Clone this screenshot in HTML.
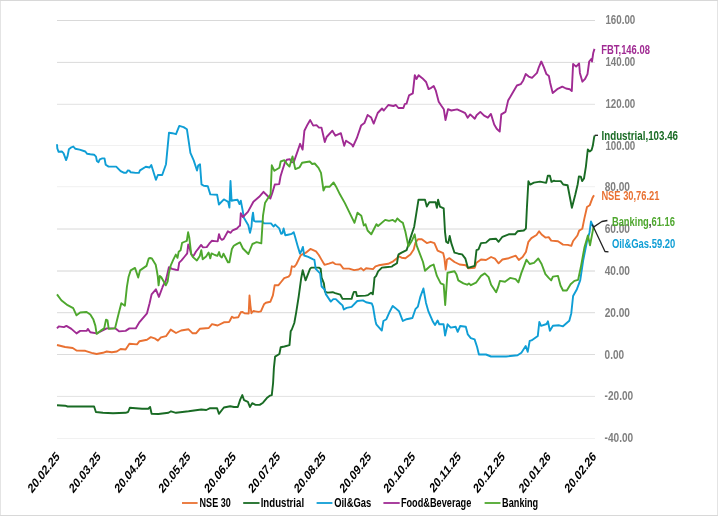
<!DOCTYPE html>
<html><head><meta charset="utf-8"><title>Chart</title>
<style>html,body{margin:0;padding:0;background:#fff;}svg{display:block;will-change:transform;}text{font-family:"Liberation Sans",sans-serif;}</style>
</head><body>
<svg width="718" height="516" viewBox="0 0 718 516">
<rect x="0" y="0" width="718" height="516" fill="#ffffff"/>
<rect x="0" y="0" width="1" height="516" fill="#E4E4E4"/>
<rect x="717" y="0" width="1" height="516" fill="#E4E4E4"/>
<rect x="0" y="0" width="718" height="1" fill="#D8D8D8"/>
<rect x="0" y="515" width="718" height="1" fill="#D8D8D8"/>
<g stroke-width="1" fill="none">
<line x1="57" y1="20.5" x2="595" y2="20.5" stroke="#D9D9D9"/>
<line x1="57" y1="62.4" x2="595" y2="62.4" stroke="#DADADA"/>
<line x1="57" y1="104.3" x2="595" y2="104.3" stroke="#E2E2E2"/>
<line x1="57" y1="145.5" x2="595" y2="145.5" stroke="#F1F1F1"/>
<line x1="57" y1="186.7" x2="595" y2="186.7" stroke="#F0F0F0"/>
<line x1="57" y1="229.0" x2="595" y2="229.0" stroke="#D8D8D8"/>
<line x1="57" y1="271.0" x2="595" y2="271.0" stroke="#D4D4D4"/>
<line x1="57" y1="312.7" x2="595" y2="312.7" stroke="#DADADA"/>
<line x1="57" y1="354.5" x2="595" y2="354.5" stroke="#DCDCDC"/>
<line x1="57" y1="396.4" x2="595" y2="396.4" stroke="#E2E2E2"/>
<line x1="57" y1="438.5" x2="595" y2="438.5" stroke="#F1F1F1"/>
</g>
<polyline fill="none" stroke="#E97132" stroke-width="1.9" stroke-linejoin="round" stroke-linecap="butt" points="57,345 65.1,347 72.7,348 76.5,350.5 85.3,350.8 91.6,352.8 96.6,354 102.9,352.8 106.7,351.5 111.8,352.3 116.8,351.5 120.6,349 125.6,349.5 129.4,343.7 137,344.4 139.5,341.2 147,339.7 150.8,337.1 154.6,338.3 157.9,340.6 160.9,337.4 166,336.2 170.7,329.6 176,333 181.1,330.5 188.6,329.3 192.4,333.2 196.2,333.2 200,328.7 208.8,328 212,324.1 217.6,325.5 223.9,322.3 229,322 230,320.5 231.9,316.7 233.8,317.9 238.2,317.3 240.7,312.3 242.6,312 244.5,313.2 248.7,313.5 249.5,295.5 250.4,305.3 251.4,313.2 253.3,311 258.4,311.9 260.9,311.4 264,304.3 265.9,302.8 270.3,301.8 272.9,295.3 274.7,285.2 278.5,285.2 281.1,282 284.2,278.2 288.6,276.6 290.3,274.5 291.8,266.3 294.3,266.9 296.2,264.5 300.8,255.2 305.9,252.7 310.4,248.9 316,251.4 318.8,255 321.3,259.4 324.5,264.8 328.9,263.6 332.7,262.3 335.2,264.1 340.3,264.5 343.4,268.6 349.1,268.6 354.1,270.1 358.5,269.5 361.1,268.2 363.6,270.4 366.1,268.2 373,269.1 375.5,266.3 378.7,265.3 388.2,263.8 393.2,261.3 397,258.2 398.3,256.2 401.6,257.7 405.4,258.2 410.4,254.4 413.7,249.4 415.5,242.6 418,239.3 421.8,239.3 426.8,243.1 430.6,241.8 434.4,243.1 437.6,250.7 443.2,253.2 444.4,258.2 445.7,269.6 447,259.5 449.5,258.2 454.5,262 459.6,264.5 465.9,265.3 468.4,268.3 474.7,267.8 476.5,262.8 481,259.5 486,260 491.1,257 494.9,258.7 498.6,263.3 502.4,259.5 508.7,258.2 515.8,255.7 518.8,260 522.6,257 525.9,251.9 528.4,241.8 531.4,238.1 536.5,235 539.1,231.3 541.6,234.5 545.4,237.6 548.7,237.1 551.2,240.6 558,241.3 563,244.6 567.8,244.9 571.3,245.9 573.1,241 577.4,235.5 579.2,230.6 582.3,228.8 584.4,218.4 587,207 589.7,205.3 592.3,198.3 594,195.3"/>
<polyline fill="none" stroke="#196B24" stroke-width="1.9" stroke-linejoin="round" stroke-linecap="butt" points="57,405.2 65.1,405.7 67.6,406.5 94.1,406.5 95.9,412 102.9,412.8 113,413.3 125.6,412.8 128.1,412 129.9,407.7 135.7,408.2 142,408.7 148.3,408.7 150.1,407 151.6,413.8 158.4,414 168.5,412.8 171,411.3 176,412.8 188.6,411.3 201.3,409.5 206.3,410 210.1,408.2 217.1,408.2 218.9,413.8 223.9,407.5 230.2,406.2 234,407 237.8,407 240.3,399.4 242.3,395.1 244.1,400.2 247.9,401.9 249.9,407 252.2,403.2 255.5,404.9 259.7,404.9 263,402.7 266.8,398.1 270.1,395.6 271.8,395.1 273.1,383 273.9,367.9 275.1,356.6 279.4,354 280.7,347.2 284.4,346.5 289.5,345.2 290.7,331.3 291.8,329.5 294.3,323 296.2,312.3 298.7,296.5 301.2,278.2 302.7,270.3 305.6,280.4 310,268.9 311.3,267.6 318.8,267.6 320.7,268.9 321.6,277.7 323.9,283.4 324.9,291.6 327.6,292.6 332.7,292.2 335.2,293.1 340.3,294.7 342.5,298.9 351.6,298.9 352.6,295.3 353.9,291.9 356,291.9 356.9,296 365.5,295.6 368,295.1 371.1,292.8 372.8,294.3 373.7,286.5 374.5,277.7 376.2,275.8 378.1,271.4 381.9,267.6 385.6,267.2 391.9,266.6 393.8,265.1 397,263.2 398.2,255.5 398.6,254.4 401.6,252.7 406.6,250.2 410.4,238.1 414.2,226.7 416,215.4 418.5,199.7 425,199.7 426.8,206.6 429.3,202.3 435.6,202.3 436.9,207.8 438.1,199.7 439.9,206.6 443.7,208.3 445,231.8 446.2,241.8 448.2,243.1 449.7,236 451.3,243.1 454.5,252.7 458.3,253.7 462.1,254.4 465.4,258.7 467.9,267.8 474.7,265.8 476.5,250.2 478.5,249.4 481,243.1 486,242.6 489.8,239.3 496.1,238.8 498.6,241.8 502.4,236.8 508.7,234.3 515,234.3 517.5,231.3 523.8,230.5 525.9,228.5 526.9,207.8 528.4,181.3 530.2,184.6 533.9,182.6 540,181.6 546.2,182.9 547.8,175.7 549.9,175.7 551.5,181.9 554,180.7 555,181.1 560.7,181.1 563.2,184.5 567.6,185.2 571.9,207.7 575.2,195 577.7,184.2 578.9,176.4 580.8,176.6 582.1,181.1 584,178.5 585.9,166.6 587.8,149.5 589.7,151.4 591.6,149.9 592.8,145.8 594.1,137.6 594.7,135.5"/>
<polyline fill="none" stroke="#0F9ED5" stroke-width="1.9" stroke-linejoin="round" stroke-linecap="butt" points="57,144.2 57.3,148.4 58.6,151.8 62,151.5 63.6,153.4 66.1,160.1 67.6,155.9 68.9,149.2 70.8,147.7 73.3,146.5 75.2,148.7 79.6,149.6 85.3,151.5 87.2,153.8 90.3,154.3 94.1,154.7 96,156.6 96.9,161 98.5,162.2 99.8,159.3 102.3,158.4 104.5,158.4 105.7,164.7 108.6,166.6 116.2,166.6 120.6,171.1 123.7,172.7 126.3,172.7 127.9,170.4 129.4,170.7 130.7,172.3 135.7,172.9 138.9,172.9 140,170.4 145.8,166.7 149.6,167.5 151.3,165 155.9,179.8 157.9,175 162.2,175 166,164.2 169,132.7 172.3,133.2 176,134.2 179.3,125.9 183.6,127.1 186.9,129.2 190.4,152.9 193.7,160.4 197,170.5 198.2,165.5 200,164.2 201.5,184.4 203.8,185.8 207.8,186.2 210.3,194.4 217.1,194.7 218.9,204.5 223.9,199.4 225,200 228.2,201.9 229.4,207.6 230.5,181 231.6,200.7 233.8,200.3 237.6,199.8 239.5,204.1 240.8,200.7 242.6,210.1 243.9,217.7 248.3,225.3 250,232.8 251.5,226.5 252.1,218.3 253,212.6 254,220.8 255.3,221.5 262.2,221.5 264.1,223.4 271,223.4 273.5,226.5 275.2,224.6 279.2,228.4 281.1,233.8 282.4,233.4 283.6,228.4 285.3,235.3 288,234.7 291.8,233.8 293.7,232.2 295,236.6 297.5,245.4 300,253.6 301.6,250.5 302.9,246.9 304.2,255.5 308.2,256.8 313.2,259.3 314.4,259.8 315.7,268.9 320.1,273.3 321.6,286.5 324.9,289.7 325.8,294.1 330.8,301.6 333.3,299.1 335.8,299.1 340.3,303.5 342.5,305.4 343.8,309.5 346.6,307.9 351.6,306.9 357.3,301 362.9,300.4 366.1,302.3 371.8,303.5 373,306.7 374.9,318 375.7,322 376.3,324.3 381.8,330.6 383.4,321 386.4,319.2 389.7,311.7 392.7,305.9 395.2,307.9 399,311.2 402.8,321 406.6,319.2 412.4,318 415.4,309.2 417.9,306.6 420.4,296.6 423.4,288.5 426,302.9 428.5,311.7 433,321.8 435,325 437.6,320.5 439.3,324.3 443.6,324.3 445.1,335.6 447.6,324.3 450.7,327.6 455.7,326.8 457.7,331.8 460.2,326 465.8,326.8 467.8,334.4 470.8,338.1 474.6,339.4 477.1,347 478.9,354.5 486,354.5 491,356.5 506.1,356.5 517.6,355.3 521.4,352.8 525.7,346 527.7,351.8 529.7,340.9 531.5,340.4 537.8,335.9 539.3,322 541.1,325.8 546.6,324 547.9,321.3 549.9,330.8 552.9,325.8 559.2,325.3 563,326.3 569.3,320.8 571.3,313.2 573.1,296 576.9,289.2 580.2,280.4 583.2,260.3 587,241.3 589.5,232.5 591,221.5 593.5,227.4"/>
<polyline fill="none" stroke="#A02B93" stroke-width="1.9" stroke-linejoin="round" stroke-linecap="butt" points="57,328.4 58.8,326.4 63.9,327.1 66.4,325.9 71.4,328.9 76.5,333.4 80.2,330.9 86.6,330.9 87.8,328.9 90.3,332.2 96.6,333.4 101.7,330.9 106.7,328.4 115.5,328.4 119.3,331.4 125.6,330.9 129.4,328.4 135.7,328.4 139.5,322.1 147,313.3 149.6,303.2 151.6,294.4 155.9,289.3 158.9,296.9 162.2,288 162.6,286.8 165.8,280.5 167.6,272.9 168.9,267.2 170.2,267.9 172.1,268.9 175.8,269.7 178,270.1 179.2,262.6 181.5,260.3 184.7,256.5 187.2,253.4 188.2,244.5 189.6,248 191,253.5 192.2,255.3 193.5,255.9 196,251.5 198.5,248.3 201.1,244.9 203,247.4 206.7,247.1 209.2,243.7 211.8,240.8 214.9,241.1 217.7,241.4 219,234.1 220.3,238.2 221.9,239.9 223.7,238.9 227.9,231.3 230.7,232.8 232.6,230.3 237,228.5 238.9,226.3 240,225.6 240.8,213.2 242.9,217 247.9,211.9 253.4,201.8 259.2,196.8 263.5,191.8 267.6,196 270.4,198.5 272.3,192.9 274.8,184.5 279.2,184.1 280.5,176.5 282.4,170.2 284.9,162.6 286.8,159.8 289.9,159.1 291.2,162 293.7,162.4 295.6,156.9 297.8,150.6 300.1,143.8 302.6,149.6 304.4,130.7 307.6,124.4 310.2,120.1 313.2,125.6 316.5,125.1 319,127.6 321.5,127.6 324.8,142 326.6,137 332.4,130.7 335.4,135.7 340.9,133.2 344.2,145.8 346,140.7 351.8,144.5 353,146.5 356.8,138.2 361.1,125.6 364.4,123.1 367.6,115 371.2,117.6 373.7,123.6 377.7,113 382,108.5 383.8,110.5 388.3,105 393.4,106 395.9,105 398.4,108 403.4,108 404.7,104.2 406.5,103.7 409,95.4 412.8,93.4 414.8,75.2 416.5,79 418.6,75.2 422.3,78.2 426.1,82 428.6,89.1 431.2,87.8 433.7,86 435.7,90.3 438.7,101.7 441.2,105.5 443.8,109.2 445.5,120.1 448,109.2 451.3,110.5 457.1,109.4 462.7,111.9 465.2,113.2 467.7,117.7 470.2,114.4 474.8,118.7 476.6,115.2 480.3,111.9 484.1,115.7 487.9,117.7 490.9,113.9 494.2,124.5 496.7,128.8 499.7,131.6 501.3,114.4 505.5,111.9 508.1,100.6 511.8,94.3 516.9,85.5 520.7,84.2 523.2,80.4 525.7,74.1 528.7,76.6 532,77.9 537,72.9 538.8,67.3 541.3,61.5 543.9,67.3 546.4,74.1 548.9,76.1 550.2,82.9 552.7,93 557.2,89.2 562.3,86.7 566,88.5 569.8,89.2 571.8,91 573.1,64 576.1,66.6 579.1,63.5 579.9,72.9 582.4,81.7 584.9,79.2 587.5,74.1 589.2,61.5 591.2,59 592,61.5 593.3,52.7 594.5,48.9"/>
<polyline fill="none" stroke="#4EA72E" stroke-width="1.9" stroke-linejoin="round" stroke-linecap="butt" points="57,294.4 61.3,300.2 67.6,305.2 73.2,308.2 76.5,315.3 80.2,312.5 86.6,312 90.3,314.5 93.4,319.6 95.4,325.9 96.6,333.9 100.4,330.9 104.2,328.4 106,319.6 107.5,320.3 108.7,328.9 115,328.4 118.1,315.8 121.3,303.2 124.9,305.7 126.9,286.8 128.6,276.7 130.7,270.4 135,267.9 138.2,277.5 140,270.4 146.5,265.9 148.8,258.3 150,258 151.9,258.4 155.7,264.7 156.9,271 157.8,276.7 158.6,285.3 159.8,276 161.3,277.3 165.8,285.3 167.6,281.7 168.9,272.9 170.8,265.3 173.3,259.7 175.8,254.6 177.5,257.8 178.7,251.7 180.6,250.2 182.1,242.9 184,242 186.8,240.8 188.1,232.3 189.3,237.6 190.3,246.4 191.2,254.2 192.9,257.1 196.9,260.5 199.8,255.9 201.3,250.2 202.7,259.3 206.1,256.5 208.6,252.5 210.3,258.4 211.5,253.4 214.9,255 217.4,255.9 219.1,252.1 220.3,256.3 221.9,257.5 223.5,253.7 225.6,257.8 227.9,262.2 229.4,262.2 230.7,255.3 231.9,249 233.8,245.8 237,243.9 240,242.4 242.9,248.5 248.4,254 252.4,244 256.7,242.2 261.3,243.4 263,215.7 265,203.1 268.1,198.1 270.6,194.3 271.8,165.3 274.4,170.8 279.4,167.8 280.7,161.5 284.4,160.2 287,164 289.5,166.6 292.5,156.5 295.3,169.1 299.6,167.3 302.1,162.8 309.7,161.5 312.2,164 314.7,163.5 318.5,167.8 321,172.9 323.5,190.5 325.3,186.7 329.8,186.7 333.6,182.4 336.1,186.7 339.9,194.3 344.9,203.1 354.5,222.8 357.5,212.7 361.3,215.7 363.8,225.5 365.5,224.2 367.6,230.5 371.3,234.3 376.4,224.2 378.1,226 385.2,219.9 389,220.9 392.8,219.9 395.3,221.7 397.3,218.4 400.3,221.2 402.9,222.9 405.4,231.8 408.4,246.4 411.7,241.1 414.7,234.3 416.7,245.6 423,262 425,270.8 430.6,265.8 433.6,264.5 436.9,275.9 440.7,283.4 443.7,284.7 445.2,305 447.5,272.8 454.5,271.3 456.5,274.6 458.3,280.4 463.4,283.4 467.1,284.7 468.9,283.4 470.9,285.2 476,282.7 481,275.9 484.8,273.4 488.6,277.1 491.1,284.7 496.1,292.3 498.1,287.2 499.9,280.9 505,281.7 510.1,277.9 515.6,279.2 518.4,282.4 521.4,272.9 526.5,259.7 529.7,264 534,262.8 538.3,258.5 541.6,264 545.4,274.1 548.7,277.9 551.2,280.4 552.9,276.6 558,275.9 560.5,285.5 563,290.5 566.8,290.5 570.6,284.2 574.4,280.9 578.1,279.9 580.7,267.8 584.4,247.6 587.9,235.5 590,245.4 593.5,227.1"/>
<g stroke="#222" stroke-width="1.3" fill="none" stroke-linejoin="round">
<polyline points="594.7,135.3 598,135.3"/>
<polyline points="593.5,227.1 601.9,221.5 607.4,220.5"/>
<polyline points="592.3,224.5 605,251.5 608.5,251.9"/>
</g>
<g font-size="12" font-weight="bold" fill="#808080">
<text x="605.4" y="24.1" textLength="29.9" lengthAdjust="spacingAndGlyphs">160.00</text>
<text x="605.4" y="65.9" textLength="29.9" lengthAdjust="spacingAndGlyphs">140.00</text>
<text x="605.4" y="107.7" textLength="29.9" lengthAdjust="spacingAndGlyphs">120.00</text>
<text x="605.4" y="149.5" textLength="29.9" lengthAdjust="spacingAndGlyphs">100.00</text>
<text x="604.7" y="191.3" textLength="25.3" lengthAdjust="spacingAndGlyphs">80.00</text>
<text x="604.7" y="233.1" textLength="25.3" lengthAdjust="spacingAndGlyphs">60.00</text>
<text x="604.7" y="274.9" textLength="25.3" lengthAdjust="spacingAndGlyphs">40.00</text>
<text x="604.7" y="316.7" textLength="25.3" lengthAdjust="spacingAndGlyphs">20.00</text>
<text x="604.6" y="358.5" textLength="19.5" lengthAdjust="spacingAndGlyphs">0.00</text>
<text x="604.6" y="400.3" textLength="28.6" lengthAdjust="spacingAndGlyphs">-20.00</text>
<text x="604.6" y="442.1" textLength="28.6" lengthAdjust="spacingAndGlyphs">-40.00</text>
</g>
<text x="601.3" y="54.2" font-size="12.3" font-weight="bold" fill="#A02B93" textLength="48.6" lengthAdjust="spacingAndGlyphs">FBT,146.08</text>
<text x="601.5" y="140.0" font-size="12.3" font-weight="bold" fill="#196B24" textLength="76.5" lengthAdjust="spacingAndGlyphs">Industrial,103.46</text>
<text x="601.4" y="200.3" font-size="12.3" font-weight="bold" fill="#E97132" textLength="58.0" lengthAdjust="spacingAndGlyphs">NSE 30,76.21</text>
<text x="611.9" y="226.0" font-size="12.3" font-weight="bold" fill="#4EA72E" textLength="63.0" lengthAdjust="spacingAndGlyphs">Banking<tspan fill="#222">,</tspan>61.16</text>
<text x="611.9" y="248.3" font-size="12.3" font-weight="bold" fill="#0F9ED5" textLength="63.4" lengthAdjust="spacingAndGlyphs">Oil&amp;Gas.59.20</text>
<g font-size="13.3" font-weight="bold" fill="#000" text-anchor="end">
<text transform="translate(60.2,457.2) scale(0.77,1) rotate(-45)" x="0" y="0">20.02.25</text>
<text transform="translate(101.4,457.2) scale(0.77,1) rotate(-45)" x="0" y="0">20.03.25</text>
<text transform="translate(146.9,457.2) scale(0.77,1) rotate(-45)" x="0" y="0">20.04.25</text>
<text transform="translate(191.0,457.2) scale(0.77,1) rotate(-45)" x="0" y="0">20.05.25</text>
<text transform="translate(236.6,457.2) scale(0.77,1) rotate(-45)" x="0" y="0">20.06.25</text>
<text transform="translate(280.7,457.2) scale(0.77,1) rotate(-45)" x="0" y="0">20.07.25</text>
<text transform="translate(326.3,457.2) scale(0.77,1) rotate(-45)" x="0" y="0">20.08.25</text>
<text transform="translate(371.8,457.2) scale(0.77,1) rotate(-45)" x="0" y="0">20.09.25</text>
<text transform="translate(415.9,457.2) scale(0.77,1) rotate(-45)" x="0" y="0">20.10.25</text>
<text transform="translate(461.5,457.2) scale(0.77,1) rotate(-45)" x="0" y="0">20.11.25</text>
<text transform="translate(505.6,457.2) scale(0.77,1) rotate(-45)" x="0" y="0">20.12.25</text>
<text transform="translate(551.2,457.2) scale(0.77,1) rotate(-45)" x="0" y="0">20.01.26</text>
<text transform="translate(596.8,457.2) scale(0.77,1) rotate(-45)" x="0" y="0">20.02.26</text>
</g>
<line x1="182.0" y1="503.0" x2="197.6" y2="503.0" stroke="#E97132" stroke-width="1.8" stroke-linecap="butt"/>
<text x="199.6" y="507.3" font-size="12.3" font-weight="bold" fill="#000000" textLength="31.1" lengthAdjust="spacingAndGlyphs">NSE 30</text>
<line x1="243.2" y1="503.0" x2="259.5" y2="503.0" stroke="#196B24" stroke-width="1.8" stroke-linecap="butt"/>
<text x="260.7" y="507.3" font-size="12.3" font-weight="bold" fill="#000000" textLength="43.4" lengthAdjust="spacingAndGlyphs">Industrial</text>
<line x1="316.6" y1="503.0" x2="332.4" y2="503.0" stroke="#0F9ED5" stroke-width="1.8" stroke-linecap="butt"/>
<text x="334.2" y="507.3" font-size="12.3" font-weight="bold" fill="#000000" textLength="37.1" lengthAdjust="spacingAndGlyphs">Oil&amp;Gas</text>
<line x1="383.4" y1="503.0" x2="399.7" y2="503.0" stroke="#A02B93" stroke-width="1.8" stroke-linecap="butt"/>
<text x="400.9" y="507.3" font-size="12.3" font-weight="bold" fill="#000000" textLength="70.4" lengthAdjust="spacingAndGlyphs">Food&amp;Beverage</text>
<line x1="484.6" y1="503.0" x2="500.5" y2="503.0" stroke="#4EA72E" stroke-width="1.8" stroke-linecap="butt"/>
<text x="502.1" y="507.3" font-size="12.3" font-weight="bold" fill="#000000" textLength="36.1" lengthAdjust="spacingAndGlyphs">Banking</text>
</svg>
</body></html>
